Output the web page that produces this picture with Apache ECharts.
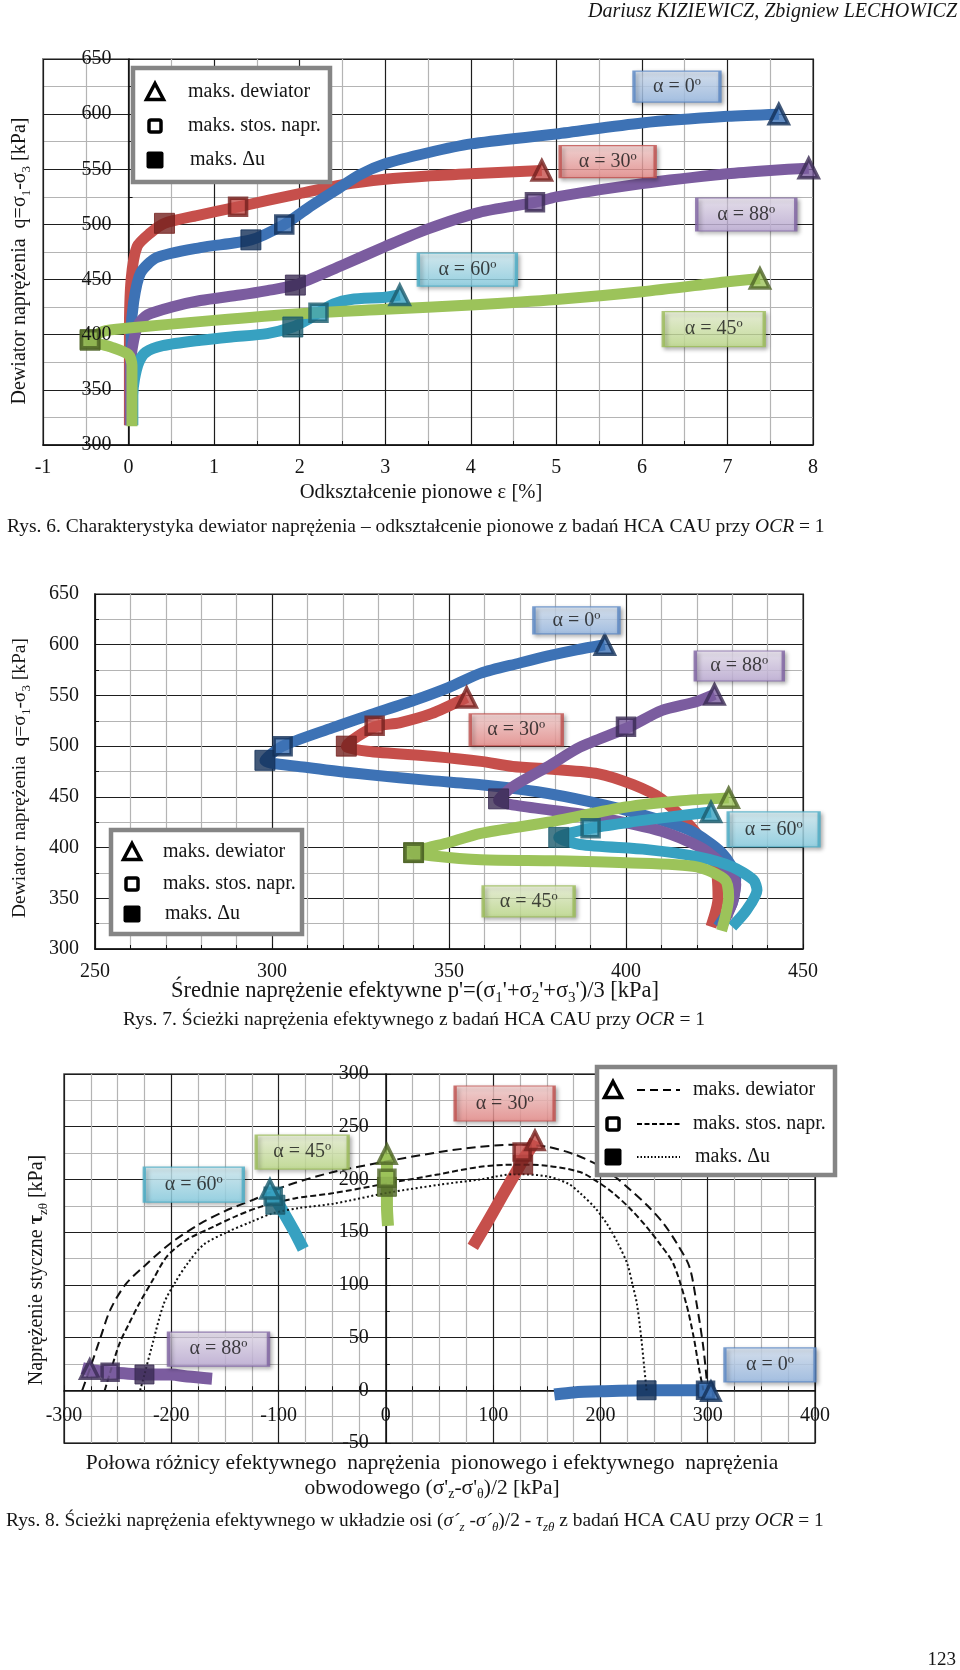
<!DOCTYPE html>
<html><head><meta charset="utf-8">
<script src="https://cdn.jsdelivr.net/npm/echarts@6/dist/echarts.min.js"></script>
<style>html,body{margin:0;padding:0;background:#fff}#c{width:960px;height:1670px}</style>
</head><body><div id="c"></div>
<script>
// ===== Rys. 6 : vertical strain eps [%] vs deviator q [kPa] =====
const c1_xTicks = [-1, 8, 1];
const c1_yTicks = [300, 650, 50];
const c1_a0  = [[0.03,318],[0.03,400],[0.06,430],[0.14,456],[0.33,470],[0.84,479],[1.43,486],[1.82,500],[2.1,515],[2.4,530],[2.7,545],[3.0,555],[3.5,565],[4.0,573],[5.0,582],[6.0,592],[7.0,598],[7.6,600]];
const c1_a30 = [[0.01,318],[0.01,400],[0.03,450],[0.1,480],[0.25,492],[0.42,501],[0.8,508],[1.28,516],[2.0,528],[2.5,536],[3.0,541],[3.5,544],[4.0,546],[4.83,549]];
const c1_a88 = [[0.02,318],[0.02,370],[0.06,395],[0.12,410],[0.22,418],[0.5,425],[0.84,431],[1.3,436],[1.62,440],[1.95,445],[2.5,463],[3.0,480],[3.5,496],[4.1,511],[4.75,520],[5.0,525],[6.0,537],[7.0,546],[7.5,549],[7.95,551]];
const c1_a60 = [[0.05,318],[0.05,345],[0.07,360],[0.12,375],[0.2,384],[0.4,390],[0.84,395],[1.2,398],[1.62,401],[1.92,407],[2.1,414],[2.22,420],[2.4,428],[2.6,432],[3.0,434],[3.17,436]];
const c1_a45 = [[0.04,317],[0.04,372],[0.0,382],[-0.21,389],[-0.45,395],[-0.3,403],[0.0,406],[1.0,413],[2.0,419],[3.0,423],[4.0,427],[5.0,432],[6.0,439],[7.0,448],[7.38,451]];
// markers, order: a0, a30, a88, a60, a45
const c1_maxDev = [[7.6,600],[4.83,549],[7.95,551],[3.17,436],[7.38,451]];
const c1_maxStr = [[1.82,500],[1.28,516],[4.75,520],[2.22,420],[-0.45,396]];
const c1_maxDu  = [[1.43,486],[0.42,501],[1.95,445],[1.92,407],[-0.45,395]];
const c1_tags   = [[6.41,625],[5.60,557],[7.22,509],[3.96,459],[6.84,405]];

// ===== Rys. 7 : mean effective stress p' vs q [kPa] =====
const c2_xTicks = [250, 450, 50];
const c2_yTicks = [300, 650, 50];
const c2_a0  = [[426,322],[430,345],[431,370],[427,395],[418,417],[405,432],[390,445],[375,455],[359,462],[345,466],[327,472],[310,479],[298,486],[303,500],[317,518],[327,530],[340,545],[350,558],[359,572],[370,582],[378,589],[386,595],[394,600]];
const c2_a30 = [[424,322],[426,350],[425,385],[419,418],[410,448],[402,462],[392,473],[380,477],[368,480],[359,485],[345,490],[327,495],[321,500],[329,519],[336,523],[345,532],[355,548]];
const c2_a88 = [[427,322],[430,345],[431,364],[423,396],[410,416],[389,432],[364,447],[368,460],[378,480],[387,499],[401,519],[410,535],[420,544],[425,551]];
const c2_a60 = [[430,322],[434,338],[437,358],[436,368],[430,381],[420,391],[406,398],[387,403],[381,410],[390,419],[401,425],[412,430],[424,435]];
const c2_a45 = [[427,318],[429,351],[428,368],[420,381],[400,385],[380,387],[359,388],[345,392],[340,395],[350,405],[359,414],[378,425],[400,440],[415,446],[429,449]];
const c2_maxDev = [[394,600],[355,548],[425,551],[424,435],[429,449]];
const c2_maxStr = [[303,500],[329,520],[400,519],[390,419],[340,395]];
const c2_maxDu  = [[298,486],[321,500],[364,448],[381,410],[340,395]];
const c2_tags   = [[386,624],[369,516],[432,579],[441.7,418],[372.5,347]];

// ===== Rys. 8 : (s'z - s'th)/2 vs tau_zth [kPa] =====
const c3_xTicks = [-300, 400, 100];
const c3_yTicks = [-50, 300, 50];
const c3_a0  = [[157,-4],[175,-2],[200,-1],[243,0],[270,0],[298,0],[303,-1]];
const c3_a30 = [[81,136],[95,160],[110,187],[122,208],[130,222],[137,233],[139,237]];
const c3_a88 = [[-283,21],[-275,19],[-257,17],[-225,15],[-200,15],[-185,13],[-162,11]];
const c3_a60 = [[-77,134],[-85,150],[-95,168],[-102,180],[-107,190]];
const c3_a45 = [[2,156],[1,175],[1,193],[1,201],[1,215],[1,224]];
const c3_maxDev = [[303,-1],[139,237],[-276,20],[-108,191],[1,224]];
const c3_maxStr = [[298,0],[127,226],[-257,17],[-105,184],[1,201]];
const c3_maxDu  = [[243,0],[128,214],[-225,15],[-103,176],[1,193]];
const c3_envDev = [[-283,0],[-276,20],[-266,50],[-257,76],[-243,100],[-226,117],[-200,140],[-173,158],[-150,170],[-123,181],[-90,195],[-49,207],[0,217],[50,226],[88,231],[120,233],[150,231],[175,224],[197,214],[213,203],[228,190],[244,175],[259,158],[272,138],[283,117],[290,80],[296,40],[300,0]];
const c3_envStr = [[-262,0],[-257,17],[-248,45],[-240,62],[-230,82],[-217,105],[-204,127],[-185,143],[-161,155],[-140,165],[-117,174],[-85,182],[-49,187],[0,196],[50,205],[88,212],[120,214],[150,213],[181,207],[197,198],[212,187],[228,172],[243,155],[256,138],[268,120],[280,82],[287,50],[292,20],[296,0]];
const c3_envDu  = [[-229,0],[-225,15],[-218,42],[-207,82],[-196,103],[-185,120],[-170,138],[-148,150],[-125,160],[-105,168],[-80,173],[-49,177],[0,187],[50,195],[88,200],[120,205],[150,203],[170,196],[181,187],[195,173],[206,158],[216,140],[225,120],[230,100],[234,82],[238,50],[241,20],[243,0]];
const c3_tags   = [[358,24],[110.7,272],[-156,39],[-179,195],[-78,226]];

const tagNames = ['α = 0º','α = 30º','α = 88º','α = 60º','α = 45º'];

// ---------- layout & styles ----------
const FONT = '"Liberation Serif","Times New Roman",serif';
const G = [
  {left:43, right:147, top:59, bottom:1225},
  {left:95, right:157, top:594, bottom:721},
  {left:64, right:145, top:1074, bottom:227}
];
const W = 960, H = 1670;
function gw(i){ return W - G[i].left - G[i].right; }
function gh(i){ return H - G[i].top - G[i].bottom; }
// offsets that place an axis on the other axis' zero
function zeroOffsetX(i, t){ return -((0 - t[0]) / (t[1] - t[0])) * gw(i); }
function zeroOffsetY(i, t){ return -((0 - t[0]) / (t[1] - t[0])) * gh(i); }

const SER = {
  a0:  {line:'#3d72b5', dark:'#132f58', tag:['#dbe8f8','#9dbfea'], tagB:'#5a87c4'},
  a30: {line:'#c64f4b', dark:'#74211e', tag:['#fcd8d7','#ef8f8d'], tagB:'#c0504d'},
  a88: {line:'#7b5c9f', dark:'#3a2a52', tag:['#efe8f6','#c3b1dc'], tagB:'#8064a2'},
  a60: {line:'#37a1c1', dark:'#1b5b6d', tag:['#d9f3fa','#8cd5ea'], tagB:'#4bacc6'},
  a45: {line:'#9cc35a', dark:'#4e6426', tag:['#f1f9dd','#c4e28e'], tagB:'#9bbb59'}
};
const keys = ['a0','a30','a88','a60','a45'];
const tagSizes = {
  0:[[86,31],[95,32],[99,33],[98,33],[101,35]],
  1:[[85,27],[92,32],[88,30],[91,35],[91,31]],
  2:[[90,34],[99,35],[100,34],[99,35],[92,34]]
};

function axisCommon(g, t, minorSplit, extra) {
  return Object.assign({
    type:'value', gridIndex:g, min:t[0], max:t[1], interval:t[2],
    axisLine:{show:true, onZero:false, lineStyle:{color:'#111', width:1.5}},
    axisTick:{show:true, inside:true, length:5, lineStyle:{color:'#111'}},
    minorTick:{show:true, splitNumber:minorSplit, length:4, lineStyle:{color:'#111'}},
    splitLine:{show:true, lineStyle:{color:'#1e1e1e', width:1.2}},
    minorSplitLine:{show:true, lineStyle:{color:'#b4b4b4', width:1.2}},
    axisLabel:{fontFamily:FONT, fontSize:20, color:'#151515'}
  }, extra || {});
}
const LBL = (m) => ({fontFamily:FONT, fontSize:20, color:'#151515', margin:m});

const xAxes = [
  axisCommon(0, c1_xTicks, 2, {position:'bottom', axisLabel:LBL(13)}),
  axisCommon(1, c2_xTicks, 5, {position:'bottom', axisLabel:LBL(13)}),
  axisCommon(2, c3_xTicks, 4, {position:'bottom', offset:zeroOffsetY(2, c3_yTicks), axisLabel:LBL(15)})
];
const yAxes = [
  axisCommon(0, c1_yTicks, 2, {position:'left', offset:zeroOffsetX(0, c1_xTicks), axisLabel:{show:false}}),
  axisCommon(1, c2_yTicks, 2, {position:'left', axisLabel:LBL(16)}),
  axisCommon(2, c3_yTicks, 2, {position:'left', offset:zeroOffsetX(2, c3_xTicks), axisLabel:LBL(17)}),
  // label-only copy of chart-1 y axis, drawn above the marks (as in the original figure)
  {type:'value', gridIndex:0, position:'left', min:c1_yTicks[0], max:c1_yTicks[1], interval:c1_yTicks[2], z:30,
   offset:zeroOffsetX(0, c1_xTicks), axisLine:{show:false, onZero:false}, axisTick:{show:false},
   splitLine:{show:false}, minorSplitLine:{show:false}, minorTick:{show:false}, axisLabel:LBL(17)}
];

const series = [];
function addLines(g, data, width, order) {
  order.forEach(k => {
    series.push({type:'line', xAxisIndex:g, yAxisIndex:g, data:data[k], showSymbol:false, symbol:'none',
      smooth:0.25, z:2, silent:true,
      lineStyle:{color:SER[k].line, width:width, cap:'butt', join:'round'}});
  });
}
function addMarkers(g, dev, str, du, triSize, sqSize) {
  series.push({type:'scatter', xAxisIndex:g, yAxisIndex:g, symbol:'rect', symbolSize:sqSize, z:5,
    data: du.map((v,i)=>({value:v, itemStyle:{color:SER[keys[i]].dark, borderColor:SER[keys[i]].dark, borderWidth:1}}))});
  series.push({type:'scatter', xAxisIndex:g, yAxisIndex:g, symbol:'rect', symbolSize:sqSize-3, z:6,
    data: str.map((v,i)=>({value:v, itemStyle:{color:SER[keys[i]].line, borderColor:SER[keys[i]].dark, borderWidth:3.5}}))});
  series.push({type:'scatter', xAxisIndex:g, yAxisIndex:g, symbol:'triangle', symbolSize:triSize, z:7,
    data: dev.map((v,i)=>({value:v, itemStyle:{color:SER[keys[i]].line, borderColor:SER[keys[i]].dark, borderWidth:3.5}}))});
}
function addTags(g, pos) {
  series.push({type:'scatter', xAxisIndex:g, yAxisIndex:g, symbol:'rect', z:9, silent:true,
    data: pos.map((v,i)=>{
      const s = SER[keys[i]];
      return {value:v, symbolSize:tagSizes[g][i],
        itemStyle:{color:{type:'linear',x:0,y:0,x2:0,y2:1,colorStops:[{offset:0,color:s.tag[0]},{offset:1,color:s.tag[1]}]},
          borderColor:s.tagB, borderWidth:2, shadowBlur:4, shadowColor:'rgba(0,0,0,0.35)', shadowOffsetX:2, shadowOffsetY:2},
        label:{show:true, position:'inside', formatter:tagNames[i], fontFamily:FONT, fontSize:20, color:'#151515'}};
    })});
}

const d1 = {a0:c1_a0,a30:c1_a30,a88:c1_a88,a60:c1_a60,a45:c1_a45};
const d2 = {a0:c2_a0,a30:c2_a30,a88:c2_a88,a60:c2_a60,a45:c2_a45};
const d3 = {a0:c3_a0,a30:c3_a30,a88:c3_a88,a60:c3_a60,a45:c3_a45};
addLines(0, d1, 11, ['a30','a0','a88','a60','a45']);
addLines(1, d2, 11, ['a30','a0','a88','a60','a45']);
addLines(2, d3, 12, ['a30','a0','a88','a60','a45']);
[[c3_envDev,[9,5]],[c3_envStr,[6,3]],[c3_envDu,[2,2.5]]].forEach(e=>{
  series.push({type:'line', xAxisIndex:2, yAxisIndex:2, data:e[0], showSymbol:false, symbol:'none', smooth:0.3, z:4, silent:true,
    lineStyle:{color:'#111', width:2, type:e[1]}});
});
addMarkers(0, c1_maxDev, c1_maxStr, c1_maxDu, 19, 20);
addMarkers(1, c2_maxDev, c2_maxStr, c2_maxDu, 19, 20);
addMarkers(2, c3_maxDev, c3_maxStr, c3_maxDu, 18, 19);
addTags(0, c1_tags); addTags(1, c2_tags); addTags(2, c3_tags);

// ---------- graphic text helpers ----------
function mkRich(n, s, c) {
  return {
    n:{fontFamily:FONT, fontSize:n, lineHeight:n+6, fill:'#151515', color:'#151515'},
    s:{fontFamily:FONT, fontSize:Math.round(n*0.65), lineHeight:Math.round(n*0.6), verticalAlign:'bottom', fill:'#151515', color:'#151515'},
    b:{fontFamily:FONT, fontSize:n, lineHeight:n+6, fontWeight:'bold', fill:'#151515', color:'#151515'},
    c:{fontFamily:FONT, fontSize:c, lineHeight:c+6, fill:'#151515', color:'#151515'},
    ci:{fontFamily:FONT, fontSize:c, lineHeight:c+6, fontStyle:'italic', fill:'#151515', color:'#151515'},
    cs:{fontFamily:FONT, fontSize:Math.round(c*0.65), lineHeight:Math.round(c*0.55), fontStyle:'italic', verticalAlign:'bottom', fill:'#151515', color:'#151515'}
  };
}
function T(x, y, text, align, rot, extra, rich) {
  return {type:'text', x:x, y:y, rotation:rot||0, z:50, silent:true,
    style:Object.assign({text:text, rich:rich||mkRich(20,0,19), align:align||'center', textAlign:align||'center',
      verticalAlign:'middle', textVerticalAlign:'middle', fill:'#151515', font:'20px '+FONT}, extra||{})};
}
function legend(x0, y0, x1, y1, it, lines) {
  const els = [{type:'rect', z:40, shape:{x:x0, y:y0, width:x1-x0, height:y1-y0},
    style:{fill:'#fff', stroke:'#858585', lineWidth:4.5}}];
  const sx = it.sx, s = 15;
  els.push({type:'polygon', z:41, shape:{points:[[sx, it.y[0]-s/2-1],[sx+s/2+1, it.y[0]+s/2],[sx-s/2-1, it.y[0]+s/2]]},
    style:{fill:'#fff', stroke:'#000', lineWidth:3.5}});
  els.push({type:'rect', z:41, shape:{x:sx-s/2+1.5, y:it.y[1]-s/2+1.5, width:s-3, height:s-3, r:2},
    style:{fill:'#fff', stroke:'#000', lineWidth:3.5}});
  els.push({type:'rect', z:41, shape:{x:sx-s/2-1, y:it.y[2]-s/2-1, width:s+2, height:s+2, r:2},
    style:{fill:'#000'}});
  if (lines) {
    const dashes = [[8,5],[5,2.5],[1.5,2]];
    for (let k=0;k<3;k++) els.push({type:'line', z:41, shape:{x1:lines[0], y1:it.y[k], x2:lines[1], y2:it.y[k]},
      style:{stroke:'#000', lineWidth:2, lineDash:dashes[k]}});
  }
  const labels = ['maks. dewiator','maks. stos. napr.','maks. Δu'];
  for (let k=0;k<3;k++) els.push(T(it.tx[k], it.y[k], labels[k], 'left', 0, {font:'20px '+FONT}));
  return els;
}

const graphic = [];
graphic.push(T(957, 12, 'Dariusz KIZIEWICZ, Zbigniew LECHOWICZ', 'right', 0, {font:'italic 20px '+FONT}));
graphic.push(T(956, 1660, '123', 'right', 0, {font:'19px '+FONT}));
// chart 1 texts
graphic.push(T(20, 261, '{n|Dewiator naprężenia  q=σ}{s|1}{n|-σ}{s|3}{n| [kPa]}', 'center', Math.PI/2, null, mkRich(20,0,19)));
graphic.push(T(421, 493, 'Odkształcenie pionowe ε [%]', 'center', 0, {font:'20.6px '+FONT}));
graphic.push(T(7, 527, '{c|Rys. 6. Charakterystyka dewiator naprężenia – odkształcenie pionowe z badań HCA CAU przy }{ci|OCR}{c| = 1}', 'left', 0, null, mkRich(20,0,19.5)));
graphic.push(...legend(133, 68, 330, 182, {sx:155, y:[92,126,160], tx:[188,188,190]}));
// chart 2 texts
graphic.push(T(20, 778, '{n|Dewiator naprężenia  q=σ}{s|1}{n|-σ}{s|3}{n| [kPa]}', 'center', Math.PI/2, null, mkRich(19.5,0,19)));
graphic.push(T(415, 991, "{n|Średnie naprężenie efektywne p'=(σ}{s|1}{n|'+σ}{s|2}{n|'+σ}{s|3}{n|')/3 [kPa]}", 'center', 0, null, mkRich(22.5,0,19)));
graphic.push(T(414, 1020, '{c|Rys. 7. Ścieżki naprężenia efektywnego z badań HCA CAU przy }{ci|OCR}{c| = 1}', 'center', 0, null, mkRich(20,0,19.5)));
graphic.push(...legend(111, 830, 302, 934, {sx:132, y:[852,884,914], tx:[163,163,165]}));
// chart 3 texts
graphic.push(T(37, 1270, '{n|Naprężenie styczne }{b|τ}{s|zθ}{n| [kPa]}', 'center', Math.PI/2, null, mkRich(20,0,19)));
graphic.push(T(432, 1463, 'Połowa różnicy efektywnego  naprężenia  pionowego i efektywnego  naprężenia', 'center', 0, {font:'21.5px '+FONT}));
graphic.push(T(432, 1488, "{n|obwodowego (σ'}{s|z}{n|-σ'}{s|θ}{n|)/2 [kPa]}", 'center', 0, null, mkRich(21.5,0,19)));
graphic.push(T(6, 1521, '{c|Rys. 8. Ścieżki naprężenia efektywnego w układzie osi (}{ci|σ´}{cs|z}{ci| -σ´}{cs|θ}{c|)/2 - }{ci|τ}{cs|zθ}{c| z badań HCA CAU przy }{ci|OCR}{c| = 1}', 'left', 0, null, mkRich(20,0,19.4)));
graphic.push(...legend(597, 1067, 835, 1175, {sx:613, y:[1090,1124,1157], tx:[693,693,695]}, [637,680]));

const option = {
  animation:false,
  backgroundColor:'#fff',
  grid:[
    Object.assign({show:true, borderColor:'#8a8a8a', borderWidth:2, outerBoundsMode:'none', containLabel:false}, G[0]),
    Object.assign({show:true, borderColor:'#8a8a8a', borderWidth:2, outerBoundsMode:'none', containLabel:false}, G[1]),
    Object.assign({show:true, borderColor:'#444', borderWidth:1.5, outerBoundsMode:'none', containLabel:false}, G[2])
  ],
  xAxis:xAxes, yAxis:yAxes, series:series, graphic:graphic
};
const chart = echarts.init(document.getElementById('c'), null, {renderer:'canvas'});
chart.setOption(option);
</script></body></html>
